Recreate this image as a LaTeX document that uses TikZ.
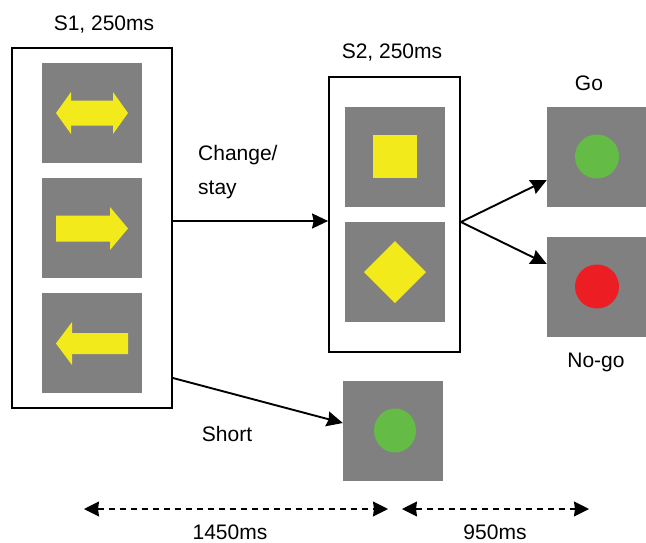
\documentclass[tikz,border=0pt]{standalone}
\usepackage{fontspec}
\setmainfont{Liberation Sans}
\usetikzlibrary{arrows.meta}
\definecolor{bggrey}{RGB}{128,128,128}
\definecolor{stimyellow}{RGB}{242,234,26}
\definecolor{stimgreen}{RGB}{100,187,70}
\definecolor{stimred}{RGB}{236,30,36}
\tikzset{
  frame/.style={draw=black, line width=1.8pt, rectangle, inner sep=0pt},
  greysq/.style={fill=bggrey, rectangle, inner sep=0pt, minimum width=100pt, minimum height=100pt},
  lbl/.style={font=\fontsize{21}{25}\selectfont, inner sep=0pt},
  conn/.style={line width=1.9pt, -{Stealth[length=16pt,width=15pt,inset=1.5pt]}},
  span/.style={line width=1.5pt, dash pattern=on 6pt off 5pt, {Stealth[length=15pt,width=15pt,inset=1pt]}-{Stealth[length=15pt,width=15pt,inset=1pt]}},
  shapeyellow/.style={fill=stimyellow},
}
\begin{document}
\begin{tikzpicture}[x=1pt,y=-1pt]
\useasboundingbox (0,0) rectangle (646,542);
% frames
\node[frame, minimum width=160pt, minimum height=360pt] (s1) at (92,228) {};
\node[frame, minimum width=131pt, minimum height=275pt] (s2) at (394.5,214.5) {};
% S1 squares
\node[greysq] (a1) at (92,113) {};
\node[greysq] (a2) at (92,228) {};
\node[greysq] (a3) at (92,343) {};
% S2 squares
\node[greysq] (b1) at (395,156.5) {};
\node[greysq] (b2) at (395,272) {};
% outcome squares
\node[greysq] (go) at (597,156.5) {};
\node[greysq] (nogo) at (597,286.5) {};
\node[greysq] (short) at (393,430.5) {};
% yellow arrows
\fill[shapeyellow] (56,113) -- (71,92) -- (71,100.5) -- (113,100.5) -- (113,92) -- (128,113) -- (113,134) -- (113,125.5) -- (71,125.5) -- (71,134) -- cycle;
\fill[shapeyellow] (56,215.5) -- (110,215.5) -- (110,207) -- (128,228.5) -- (110,250) -- (110,241.5) -- (56,241.5) -- cycle;
\fill[shapeyellow] (56,343.5) -- (72,322) -- (72,333) -- (128,333) -- (128,354) -- (72,354) -- (72,365) -- cycle;
% yellow square and diamond
\fill[shapeyellow] (373,135) rectangle (417,178);
\fill[shapeyellow] (395,241) -- (426,272) -- (395,303) -- (364,272) -- cycle;
% circles
\fill[stimgreen] (go.center) circle (22pt);
\fill[stimred] (nogo.center) circle (22pt);
\fill[stimgreen] ([xshift=2pt]short.center) ellipse (21pt and 22pt);
% labels
\node[lbl] (t1) at (104,25) {S1, 250ms};
\node[lbl] (t2) at (392,53) {S2, 250ms};
\node[lbl] (tgo) at (589,83) {Go};
\node[lbl] (tnogo) at (596,362) {No-go};
\node[lbl, anchor=west] (tch) at (198,155) {Change/};
\node[lbl, anchor=west] (tst) at (198,190) {stay};
\node[lbl] (tsh) at (227,434) {Short};
\node[lbl, anchor=base] (t1450) at (230,539) {1450ms};
\node[lbl, anchor=base] (t950) at (495,539) {950ms};
% connector coordinates
\coordinate (cy) at (0,221);
\coordinate (fan) at (0,222);
\coordinate (gy) at (0,180);
\coordinate (ny) at (0,264);
\coordinate (sy) at (0,378);
\coordinate (ty) at (0,423);
\draw[conn] (s1.east |- cy) -- (s2.west |- cy);
\draw[conn] (s2.east |- fan) -- (go.west |- gy);
\draw[conn] (s2.east |- fan) -- (nogo.west |- ny);
\draw[conn] (s1.east |- sy) -- (short.west |- ty);
% time spans
\coordinate (d1a) at (84,509);
\coordinate (d1b) at (388,509);
\coordinate (d2a) at (402,509);
\coordinate (d2b) at (589,509);
\draw[span] (d1a) -- (d1b);
\draw[span] (d2a) -- (d2b);
\end{tikzpicture}
\end{document}
